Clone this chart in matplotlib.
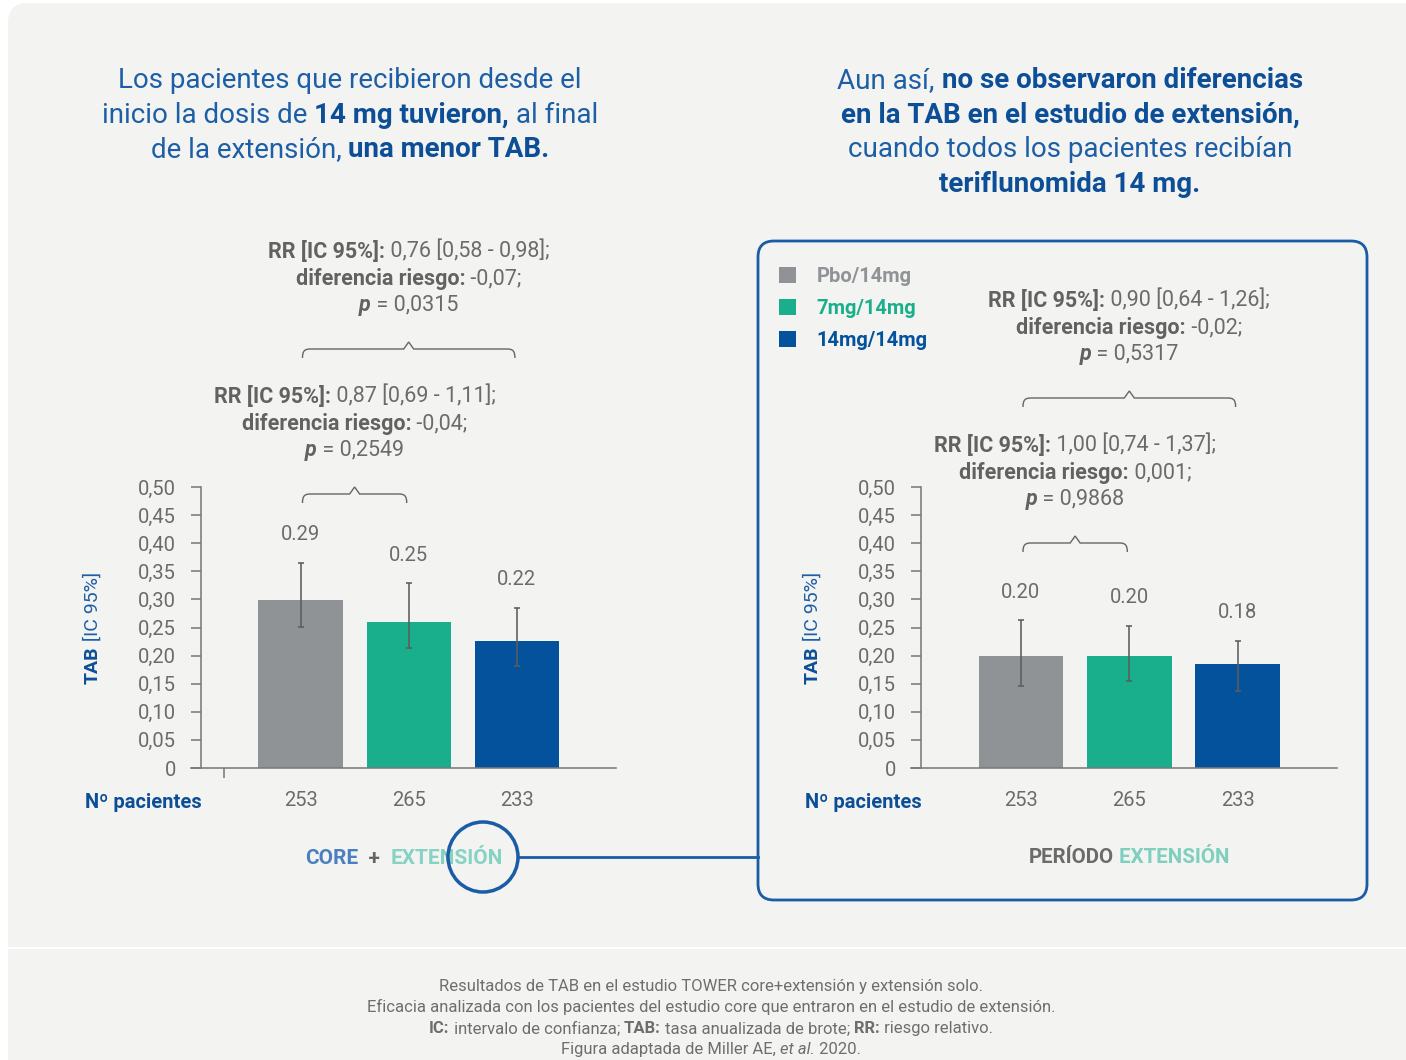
import matplotlib
matplotlib.use('Agg')
import matplotlib.pyplot as plt
from matplotlib.patches import FancyBboxPatch, Circle, PathPatch
from matplotlib.path import Path
from matplotlib.lines import Line2D
from matplotlib.transforms import IdentityTransform

W, H = 1406, 1060
FONT = 'Roboto'

# data
groups = ['Pbo/14mg', '7mg/14mg', '14mg/14mg']
n_pat = [253, 265, 233]

core_tab = [0.299, 0.259, 0.226]
core_lo = [0.251, 0.214, 0.181]
core_hi = [0.365, 0.329, 0.285]
core_labels = ['0.29', '0.25', '0.22']

ext_tab = [0.199, 0.199, 0.185]
ext_lo = [0.146, 0.155, 0.137]
ext_hi = [0.263, 0.253, 0.226]
ext_labels = ['0.20', '0.20', '0.18']

# (bar from, bar to, RR text, risk difference, p)
core_stats = [(0, 1, '0,87 [0,69 - 1,11];', '-0,04;', '0,2549'),
              (0, 2, '0,76 [0,58 - 0,98];', '-0,07;', '0,0315')]
ext_stats = [(0, 1, '1,00 [0,74 - 1,37];', '0,001;', '0,9868'),
             (0, 2, '0,90 [0,64 - 1,26];', '-0,02;', '0,5317')]

yticks = [0, 0.05, 0.10, 0.15, 0.20, 0.25, 0.30, 0.35, 0.40, 0.45, 0.50]

bar_colors = ['#8f9396', '#1aaf8c', '#04529c']
BLUE = '#0d4f97'
BLUE_L = '#1d5fa6'
GREY = '#6b6b6b'
GREY_D = '#626262'
TEAL_L = '#86d3c4'
BG = '#f3f3f1'

fig = plt.figure(figsize=(W / 100, H / 100), dpi=100)
fig.patch.set_facecolor('white')
ident = IdentityTransform()
renderer = fig.canvas.get_renderer()


def px(v):
    return v * 72 / 100


def rich(x, y, parts, size, ha='center'):
    # parts: (text, color, weight, style); x,y in image pixels, y from the top
    base = H - y - size * 100 / 72 * 0.35
    texts = []
    for s, color, weight, style in parts:
        t = fig.text(0, base, s, transform=ident, fontsize=size, color=color,
                     fontweight=weight, fontstyle=style, family=FONT,
                     ha='left', va='baseline')
        texts.append(t)
    widths = [t.get_window_extent(renderer).width for t in texts]
    total = sum(widths)
    x0 = {'center': x - total / 2, 'left': x, 'right': x - total}[ha]
    for t, w in zip(texts, widths):
        t.set_x(x0)
        x0 += w
    return texts


def rich_vertical(x, yc, parts, size):
    texts = []
    for s, color, weight in parts:
        t = fig.text(x, 0, s, transform=ident, fontsize=size, color=color,
                     fontweight=weight, family=FONT, rotation=90,
                     ha='center', va='bottom')
        texts.append(t)
    hs = [t.get_window_extent(renderer).height for t in texts]
    y0 = H - yc - sum(hs) / 2
    for t, h in zip(texts, hs):
        t.set_y(y0)
        y0 += h


def R(s, color=GREY):
    return (s, color, 'normal', 'normal')


def B(s, color=GREY_D):
    return (s, color, 'bold', 'normal')


# background panel
panel = FancyBboxPatch((8, -60), 1500, H - 3 + 60,
                       boxstyle='round,pad=0,rounding_size=20',
                       transform=ident, fc=BG, ec='none', zorder=-10)
fig.add_artist(panel)
fig.add_artist(Line2D([8, W], [H - 948, H - 948], transform=ident,
                      color='white', lw=px(2), zorder=-9))


def make_axes(x_spine, x_end, centers):
    step = centers[1] - centers[0]
    x_left = x_spine - 10
    ax = fig.add_axes([x_left / W, (H - 768) / H, (x_end - x_left) / W, 281 / H])
    ax.set_facecolor('none')
    ax.set_xlim((x_left - centers[0]) / step, (x_end - centers[0]) / step)
    ax.set_ylim(0, 0.5)
    for s in ['top', 'right']:
        ax.spines[s].set_visible(False)
    for s in ['left', 'bottom']:
        ax.spines[s].set_color('#7a7a7a')
        ax.spines[s].set_linewidth(px(1.6))
    ax.spines['left'].set_position(('data', (x_spine - centers[0]) / step))
    ax.set_yticks(yticks)
    ax.set_yticklabels(['0' if v == 0 else f'{v:.2f}'.replace('.', ',') for v in yticks],
                       family=FONT)
    ax.tick_params(axis='y', length=px(10), width=px(1.6), color='#7a7a7a',
                   labelsize=14.5, labelcolor=GREY, pad=px(15))
    ax.tick_params(axis='x', length=px(10), width=px(1.6), color='#7a7a7a')
    ax.set_xticks([])
    return ax


def draw_panel(ax, tab, lo, hi, labels):
    xs = range(len(tab))
    bars = ax.bar(xs, tab, width=0.78, color=bar_colors, zorder=2)
    err = [[t - l for t, l in zip(tab, lo)], [h - t for t, h in zip(tab, hi)]]
    ax.errorbar(xs, tab, yerr=err, fmt='none', ecolor='#5d5d5d',
                elinewidth=px(1.6), capsize=px(3), capthick=px(1.6), zorder=3)
    for x, h, lab in zip(xs, hi, labels):
        ax.annotate(lab, (x, h), xytext=(0, px(28)), textcoords='offset points',
                    ha='center', va='center', fontsize=14.5, color=GREY, family=FONT)
    for x, n in zip(xs, n_pat):
        ax.text(x, -33 / 281, str(n), transform=ax.get_xaxis_transform(),
                ha='center', va='center', fontsize=14.5, color=GREY, family=FONT)
    return bars


def brace(ax, i0, i1, y):
    x0 = ax.transData.transform((i0, 0))[0] + 2
    x1 = ax.transData.transform((i1, 0))[0] - 2
    xc = (x0 + x1) / 2
    yl = H - y
    verts = [(x0, yl - 9), (x0, yl - 2), (x0 + 2, yl), (x0 + 8, yl),
             (xc - 5, yl), (xc, yl + 7), (xc + 5, yl),
             (x1 - 8, yl), (x1 - 2, yl), (x1, yl - 2), (x1, yl - 9)]
    codes = [Path.MOVETO, Path.CURVE4, Path.CURVE4, Path.CURVE4,
             Path.LINETO, Path.LINETO, Path.LINETO, Path.LINETO,
             Path.CURVE4, Path.CURVE4, Path.CURVE4]
    fig.add_artist(PathPatch(Path(verts, codes), transform=ident, fc='none',
                             ec='#666666', lw=px(1.4)))
    return xc


def stats(ax, rows, ys):
    for (i0, i1, rr, diff, p), y in zip(rows, ys):
        xc = brace(ax, i0, i1, y)
        rich(xc, y - 99, [B('RR [IC 95%]:'), R(' ' + rr)], 15.5)
        rich(xc, y - 72, [B('diferencia riesgo:'), R(' ' + diff)], 15.5)
        rich(xc, y - 46, [('p', GREY_D, 'bold', 'italic'), R(' = ' + p)], 15.5)


# left chart: core + extension
ax1 = make_axes(201, 616, [300.5, 408.7, 516.6])
ax1.set_xticks([(224 - 300.5) / 108.1])
ax1.set_xticklabels([])
draw_panel(ax1, core_tab, core_lo, core_hi, core_labels)
stats(ax1, core_stats, [494, 349])

# right chart: extension period
ax2 = make_axes(921, 1337, [1021, 1129.3, 1237.6])
bars2 = draw_panel(ax2, ext_tab, ext_lo, ext_hi, ext_labels)
stats(ax2, ext_stats, [543, 398])

for x in [85, 805]:
    rich(x, 801, [B('Nº pacientes', BLUE)], 14.5, ha='left')
for x in [93, 813]:
    rich_vertical(x, 628, [('TAB', BLUE, 'bold'), (' [IC 95%]', BLUE_L, 'normal')], 14)

# titles
RB = lambda s: (s, BLUE_L, 'normal', 'normal')
BB = lambda s: (s, BLUE, 'bold', 'normal')
TS = 20
rich(350, 78, [RB('Los pacientes que recibieron desde el')], TS)
rich(350, 113, [RB('inicio la dosis de '), BB('14 mg tuvieron,'), RB(' al final')], TS)
rich(350, 147, [RB('de la extensión, '), BB('una menor TAB.')], TS)
rich(1070, 78, [RB('Aun así, '), BB('no se observaron diferencias')], TS)
rich(1070, 113, [BB('en la TAB en el estudio de extensión,')], TS)
rich(1070, 147, [RB('cuando todos los pacientes recibían')], TS)
rich(1070, 182, [BB('teriflunomida 14 mg.')], TS)

# extension box, circle and connector
box = FancyBboxPatch((758, H - 900), 609, 659,
                     boxstyle='round,pad=0,rounding_size=16', transform=ident,
                     fc='none', ec='#1a5ca6', lw=px(2.8), zorder=1)
fig.add_artist(box)
fig.add_artist(Line2D([518, 758], [H - 857, H - 857], transform=ident,
                      color='#1a5ca6', lw=px(2.8)))

rich(404, 857, [B('CORE', '#4a7fc1'), B('  +  ', '#666666'), B('EXTENSIÓN', TEAL_L)], 15)
fig.add_artist(Circle((483, H - 857), 35, transform=ident, fc='none',
                      ec='#1a5ca6', lw=px(3.5), zorder=5))
rich(1129, 856, [B('PERÍODO', GREY), B(' EXTENSIÓN', '#7fcfbf')], 14.8)

# legend
leg = fig.legend(handles=list(bars2), labels=groups, loc='upper left',
                 bbox_to_anchor=(761, H - 249), bbox_transform=ident,
                 frameon=False, prop={'family': FONT, 'weight': 'bold', 'size': 14.5},
                 labelcolor=[bar_colors[0], bar_colors[1], bar_colors[2]],
                 handlelength=0.85, handleheight=0.85, handletextpad=1.0,
                 labelspacing=0.65)

# footer
FG = '#6e6e6e'
F = lambda s, w='normal', st='normal': (s, FG, w, st)
FS = 12
rich(711, 985, [F('Resultados de TAB en el estudio TOWER core+extensión y extensión solo.')], FS)
rich(711, 1006, [F('Eficacia analizada con los pacientes del estudio core que entraron en el estudio de extensión.')], FS)
rich(711, 1027, [F('IC:', 'bold'), F(' intervalo de confianza; '), F('TAB:', 'bold'),
                 F(' tasa anualizada de brote; '), F('RR:', 'bold'), F(' riesgo relativo.')], FS)
rich(711, 1048, [F('Figura adaptada de Miller AE, '), F('et al.', 'normal', 'italic'), F(' 2020.')], FS)

fig.savefig('out.png', dpi=100)
